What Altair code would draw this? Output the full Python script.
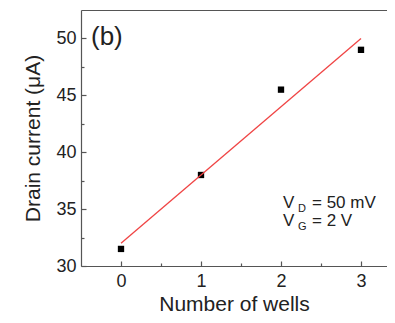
import altair as alt
import pandas as pd

# data
wells = [0, 1, 2, 3]
current = [31.5, 38.0, 45.5, 49.0]

x_major = [0, 1, 2, 3]
x_minor = [0.5, 1.5, 2.5]
y_major = [30, 35, 40, 45, 50]
y_minor = [32.5, 37.5, 42.5, 47.5]

panel_label = "(b)"
ann_main = ["V", "V"]
ann_sub = ["D", "G"]
ann_rest = ["= 50 mV", "= 2 V"]

df = pd.DataFrame({"x": wells, "y": current})

FONT = "Liberation Sans"
AX = "#555555"
TXT = "#222222"

xs = alt.Scale(domain=[-0.5, 3.325], nice=False, zero=False)
ys = alt.Scale(domain=[30, 52.5], nice=False, zero=False)

base = alt.Chart(df)

# main layer: points + main axes (domain, labels, titles)
points = base.mark_point(shape="square", filled=True, size=40, color="black", opacity=1).encode(
    x=alt.X("x:Q", scale=xs, axis=alt.Axis(
        orient="bottom", values=x_major, ticks=False, grid=False, domainColor=AX, domainWidth=1.2,
        labelFont=FONT, labelFontSize=18, labelColor=TXT, labelPadding=6, format="d",
        title="Number of wells", titleFont=FONT, titleFontSize=21, titleFontWeight="normal",
        titleColor=TXT, titlePadding=3)),
    y=alt.Y("y:Q", scale=ys, axis=alt.Axis(
        orient="left", values=y_major, ticks=False, grid=False, domainColor=AX, domainWidth=1.2,
        labelFont=FONT, labelFontSize=18, labelColor=TXT, labelPadding=5, format="d",
        title="Drain current (μA)", titleFont=FONT, titleFontSize=21, titleFontWeight="normal",
        titleColor=TXT, titlePadding=12)),
)

# regression line + inward major ticks
fit = base.transform_regression("x", "y", extent=[0, 3]).mark_line(color="#f04444", strokeWidth=1.3).encode(
    x=alt.X("x:Q", scale=xs, axis=alt.Axis(
        orient="bottom", values=x_major, domain=False, labels=False, grid=False,
        ticks=True, tickSize=5, offset=-5, tickColor=AX, tickWidth=1.2, title=None)),
    y=alt.Y("y:Q", scale=ys, axis=alt.Axis(
        orient="left", values=y_major, domain=False, labels=False, grid=False,
        ticks=True, tickSize=5, offset=-5, tickColor=AX, tickWidth=1.2, title=None)),
)

# minor ticks (inward)
minor = base.mark_point(opacity=0).encode(
    x=alt.X("x:Q", scale=xs, axis=alt.Axis(
        orient="bottom", values=x_minor, domain=False, labels=False, grid=False,
        ticks=True, tickSize=3, offset=-3, tickColor=AX, tickWidth=1.2, title=None)),
    y=alt.Y("y:Q", scale=ys, axis=alt.Axis(
        orient="left", values=y_minor, domain=False, labels=False, grid=False,
        ticks=True, tickSize=3, offset=-3, tickColor=AX, tickWidth=1.2, title=None)),
)

# top frame line
top = base.mark_point(opacity=0).encode(
    x=alt.X("x:Q", scale=xs, axis=alt.Axis(
        orient="top", domain=True, domainColor=AX, domainWidth=1.2, labels=False,
        ticks=False, grid=False, title=None)),
    y=alt.Y("y:Q", scale=ys, axis=None),
)


def txt(s, x, y, size):
    return alt.Chart(pd.DataFrame({"t": [s]})).mark_text(
        align="left", baseline="alphabetic", font=FONT, fontSize=size, color=TXT
    ).encode(text="t:N", x=alt.value(x), y=alt.value(y))


texts = [
    txt(panel_label, 10, 35, 26),
    txt(ann_main[0], 202, 198, 17),
    txt(ann_sub[0], 217, 202, 11),
    txt(ann_rest[0], 231, 198, 17),
    txt(ann_main[1], 202, 216, 17),
    txt(ann_sub[1], 217, 220, 11),
    txt(ann_rest[1], 231, 216, 17),
]

chart = alt.layer(points, fit, minor, top, *texts).resolve_scale(
    x="shared", y="shared"
).resolve_axis(
    x="independent", y="independent"
).properties(
    width=306, height=256,
    autosize=alt.AutoSizeParams(type="none"),
    padding={"left": 73, "top": 2, "right": 0, "bottom": 49},
).configure_view(stroke=None)

chart.save("out.html", embed_options={"renderer": "svg", "actions": False})
